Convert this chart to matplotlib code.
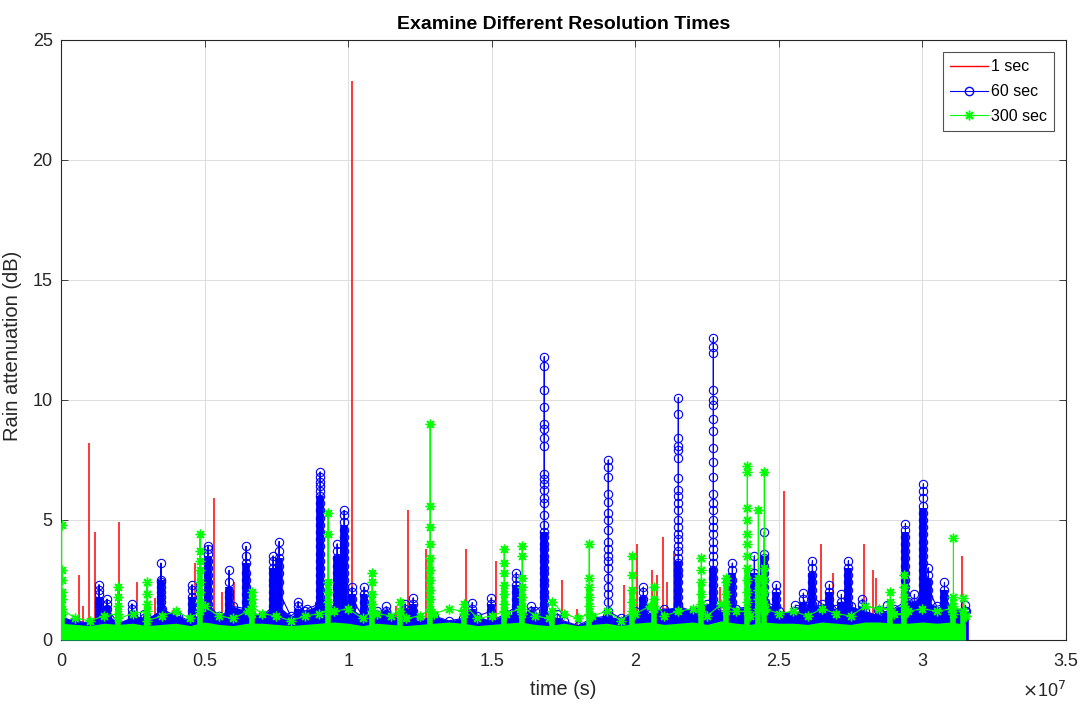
import numpy as np
import matplotlib
matplotlib.use("Agg")
import matplotlib.pyplot as plt
from matplotlib.lines import Line2D

plt.rcParams['font.family'] = ['Liberation Sans', 'DejaVu Sans']

# ---------------- data (time in units of 1e7 s, attenuation in dB) ----------------
# 1-sec series: isolated spikes
red_t = [0.063, 0.077, 0.098, 0.118, 0.202, 0.265, 0.328, 0.390, 0.401, 0.467,
         0.533, 0.561, 0.603, 0.760, 1.014, 1.167, 1.209, 1.272, 1.411, 1.516,
         1.746, 1.798, 1.962, 2.007, 2.059, 2.077, 2.098, 2.111, 2.136, 2.296,
         2.519, 2.648, 2.690, 2.798, 2.829, 2.840, 3.139]
red_peak = [2.7, 1.4, 8.2, 4.5, 4.9, 2.4, 1.75, 1.25, 1.3, 3.2,
            5.9, 2.0, 2.4, 1.9, 23.3, 1.4, 5.4, 3.8, 3.8, 3.3,
            2.5, 1.3, 2.3, 4.0, 2.9, 2.7, 4.3, 2.4, 3.7, 2.2,
            6.2, 4.0, 2.8, 4.0, 2.9, 2.6, 3.5]

# background sampling grid (every 0.05e7 s) and background levels
base_t = [i * 0.05 for i in range(64)]
blue_base = [1.0, 0.8, 0.7, 1.2, 0.7, 1.0, 0.9, 1.3, 1.0, 0.8, 1.3, 1.0, 1.4, 1.2, 1.0, 1.5,
             1.0, 1.2, 1.5, 1.3, 1.4, 1.0, 1.2, 0.9, 1.0, 0.8, 1.0, 0.8, 0.9, 1.0, 0.8, 1.1,
             1.0, 1.2, 0.9, 0.8, 0.6, 0.9, 1.0, 0.9, 1.2, 1.1, 1.3, 1.4, 1.2, 1.5, 1.2, 1.3,
             1.4, 1.6, 1.2, 1.1, 1.4, 1.5, 1.3, 1.4, 1.2, 1.0, 1.3, 1.6, 1.7, 1.4, 1.3, 1.2]
green_base = [1.3, 0.9, 0.8, 1.0, 0.9, 1.1, 0.8, 1.0, 1.2, 0.9, 1.4, 1.0, 0.9, 1.2, 1.1, 1.0,
              0.8, 1.0, 1.1, 1.2, 1.3, 0.9, 1.1, 1.0, 0.9, 1.0, 1.1, 1.3, 1.2, 0.9, 1.0, 1.1,
              1.3, 1.0, 0.9, 1.1, 0.9, 1.0, 1.2, 0.8, 1.1, 1.4, 1.0, 1.2, 1.3, 1.0, 1.5, 1.2,
              1.0, 1.3, 1.1, 1.2, 1.0, 1.3, 1.1, 1.0, 1.4, 1.3, 1.1, 1.2, 1.3, 1.2, 1.3, 1.0]
green_floor = [0.7, 0.65, 0.6, 0.7, 0.65, 0.7, 0.6, 0.65, 0.7, 0.6, 0.75, 0.65, 0.6, 0.7, 0.7, 0.65,
               0.6, 0.65, 0.7, 0.75, 0.7, 0.6, 0.7, 0.65, 0.6, 0.65, 0.7, 0.75, 0.7, 0.6, 0.65, 0.7,
               0.75, 0.65, 0.6, 0.7, 0.6, 0.65, 0.7, 0.6, 0.7, 0.75, 0.65, 0.7, 0.75, 0.65, 0.8, 0.7,
               0.65, 0.75, 0.7, 0.7, 0.65, 0.75, 0.7, 0.65, 0.75, 0.75, 0.7, 0.7, 0.75, 0.7, 0.75, 0.65]

# 60-sec series: rain events (time, sampled values, level below which markers merge)
blue_t = [0.0488, 0.1324, 0.1603, 0.2474, 0.2892, 0.3484, 0.4077, 0.4564, 0.5122, 0.5854,
          0.6446, 0.7387, 0.7596, 0.8258, 0.8571, 0.9024, 0.9617, 0.9861, 1.0139, 1.0557,
          1.1324, 1.1986, 1.2265, 1.4321, 1.4983, 1.5854, 1.6376, 1.6829, 1.7282, 1.9059,
          2.0279, 2.1498, 2.2718, 2.3380, 2.4146, 2.4495, 2.4913, 2.5575, 2.5854, 2.6167,
          2.6760, 2.7178, 2.7422, 2.7909, 2.8467, 2.8780, 2.9408, 2.9721, 3.0035, 3.0209,
          3.0767, 3.1498]
blue_vals = [
    [0.8, 0.6],
    [2.3, 2.1, 1.9, 1.6, 1.4, 1.1, 0.8],
    [1.7, 1.5, 1.3, 1.0],
    [1.5, 1.3, 1.1, 0.9],
    [1.1, 0.9],
    [3.2, 2.5, 2.4, 2.2, 2.0, 1.8, 1.6, 1.3, 1.0],
    [1.0, 0.8],
    [2.3, 2.1, 1.8, 1.5, 1.2],
    [3.9, 3.8, 3.6, 3.3, 3.0, 2.7, 2.4, 2.1, 1.8, 1.5, 1.2],
    [2.9, 2.4, 2.0, 1.8, 1.5, 1.2],
    [3.9, 3.5, 3.2, 2.8, 2.5, 2.2, 1.9, 1.6, 1.3],
    [3.5, 3.3, 3.0, 2.8, 2.5, 2.3, 2.0, 1.7, 1.4],
    [4.1, 3.7, 3.4, 3.1, 2.8, 2.4, 2.0, 1.6],
    [1.6, 1.4, 1.2],
    [1.3, 1.1],
    [7.0, 6.8, 6.6, 6.4, 6.2, 6.0, 5.7, 5.4, 5.1, 4.8, 4.5, 4.2, 3.9, 3.6, 3.3, 3.0, 2.7, 2.4, 2.1, 1.8, 1.5],
    [4.0, 3.7, 3.4, 3.1, 2.8, 2.5, 2.2, 1.9, 1.6],
    [5.4, 5.2, 4.9, 4.6, 4.3, 4.0, 3.7, 3.4, 3.1, 2.8, 2.5, 2.2, 1.9],
    [2.2, 2.0, 1.7, 1.4],
    [2.2, 1.9, 1.6, 1.3],
    [1.4, 1.2],
    [1.5, 1.3, 1.1],
    [1.75, 1.5, 1.2],
    [1.55, 1.3, 1.1],
    [1.75, 1.5, 1.2],
    [2.8, 2.6, 2.3, 2.0, 1.7, 1.4],
    [1.4, 1.2],
    [11.8, 11.4, 10.4, 9.7, 9.0, 8.8, 8.4, 8.1, 6.9, 6.7, 6.5, 6.25, 5.9, 5.7, 5.2, 4.8, 4.5, 4.3,
     4.0, 3.8, 3.5, 3.3, 3.0, 2.8, 2.5, 2.3, 2.0, 1.8, 1.5],
    [1.1, 0.9],
    [7.5, 7.2, 6.8, 6.1, 5.75, 5.3, 5.0, 4.6, 4.1, 3.8, 3.5, 3.3, 3.0, 2.6, 2.2, 1.9, 1.6, 1.2, 0.9],
    [2.2, 2.0, 1.7, 1.4, 1.1],
    [10.1, 9.4, 8.4, 8.1, 7.9, 7.6, 6.75, 6.25, 6.0, 5.7, 5.4, 5.0, 4.7, 4.4, 4.2, 3.9, 3.7, 3.4,
     3.2, 2.9, 2.7, 2.4, 2.1, 1.8, 1.5, 1.2],
    [12.6, 12.2, 11.95, 10.4, 10.0, 9.8, 9.2, 8.7, 8.0, 7.4, 6.8, 6.1, 5.7, 5.4, 5.0, 4.7, 4.4,
     4.1, 3.8, 3.5, 3.2, 2.9, 2.6, 2.3, 2.0, 1.7, 1.4],
    [3.2, 2.9, 2.5, 2.2, 1.9, 1.6, 1.3],
    [3.5, 2.8, 2.5, 2.2, 1.9, 1.6],
    [4.5, 3.6, 3.4, 3.1, 2.8, 2.5, 2.2, 1.9, 1.6],
    [2.3, 2.0, 1.7, 1.4],
    [1.45, 1.2],
    [1.95, 1.7, 1.4],
    [3.3, 3.0, 2.7, 2.4, 2.1, 1.8, 1.5],
    [2.3, 2.0, 1.7, 1.4],
    [1.9, 1.6, 1.3],
    [3.3, 3.0, 2.7, 2.4, 2.1, 1.8, 1.5],
    [1.7, 1.5, 1.2],
    [1.25, 1.0],
    [1.45, 1.2],
    [4.85, 4.6, 4.3, 4.0, 3.7, 3.4, 3.1, 2.8, 2.5, 2.2, 1.9, 1.6],
    [1.9, 1.6, 1.3],
    [6.5, 6.2, 5.9, 5.6, 5.3, 5.0, 4.7, 4.4, 4.1, 3.8, 3.5, 3.2, 2.9, 2.6, 2.3, 2.0, 1.7],
    [3.0, 2.7, 2.4, 2.1, 1.8],
    [2.4, 2.1, 1.8, 1.5],
    [1.45, 1.2],
]
blue_dense = [0.8, 1.8, 1.4, 1.2, 0.9, 2.5, 0.9, 1.8, 3.5, 2.2,
              3.2, 3.0, 3.4, 1.3, 1.1, 6.0, 3.5, 4.8, 1.9, 1.9,
              1.2, 1.3, 1.5, 1.3, 1.5, 2.3, 1.2, 4.5, 0.9, 1.0,
              1.8, 3.3, 3.0, 2.8, 2.8, 3.5, 2.0, 1.2, 1.6, 2.8,
              2.0, 1.6, 3.0, 1.4, 1.0, 1.2, 4.5, 1.6, 5.5, 2.5,
              2.1, 1.2]

# 300-sec series: rain events (time, sampled values, level below which markers merge)
green_t = [0.002, 0.1986, 0.2997, 0.4843, 0.6655, 0.9303, 1.0836, 1.1812, 1.2857, 1.4042,
           1.5436, 1.6063, 1.7108, 1.8397, 1.9895, 2.0662, 2.2300, 2.3171, 2.3902, 2.4286,
           2.4495, 2.8885, 2.9373, 3.1080, 3.1429]
green_vals = [
    [4.8, 2.9, 2.5, 2.0, 1.7, 1.3, 1.1],
    [2.2, 1.8, 1.4, 1.1],
    [2.4, 1.9, 1.5, 1.2],
    [4.4, 3.7, 3.3, 2.9, 2.4, 2.0, 1.6, 1.2],
    [2.0, 1.7, 1.4, 1.1],
    [5.3, 4.4, 2.4, 2.0, 1.6, 1.2],
    [2.8, 2.4, 1.9, 1.5, 1.2],
    [1.6, 1.2],
    [9.0, 5.6, 4.7, 4.0, 3.4, 2.9, 2.5, 2.1, 1.7, 1.3],
    [1.5, 1.1],
    [3.8, 3.2, 2.8, 2.3, 1.9, 1.5, 1.2],
    [3.9, 3.5, 2.6, 2.2, 1.8, 1.4, 1.1],
    [1.6, 1.2],
    [4.0, 2.6, 2.2, 1.8, 1.4, 1.1],
    [3.5, 2.7, 2.1, 1.6, 1.2],
    [2.2, 1.7, 1.3],
    [3.4, 2.9, 2.4, 1.9, 1.5, 1.2],
    [2.6, 2.4, 1.9, 1.5, 1.2],
    [7.25, 7.0, 5.5, 5.0, 4.4, 4.0, 3.5, 3.0, 2.5, 2.0, 1.6, 1.2],
    [5.4, 2.6, 2.1, 1.7, 1.3],
    [7.0, 3.0, 2.5, 2.0, 1.5, 1.2],
    [2.0, 1.6, 1.3],
    [2.7, 2.2, 1.8, 1.4, 1.1],
    [4.25, 1.8, 1.4, 1.1],
    [1.75, 1.2],
]
green_dense = [2.0, 1.4, 1.5, 2.9, 1.4, 2.4, 1.9, 1.2, 3.4, 1.1,
               2.3, 2.2, 1.2, 2.2, 2.1, 1.7, 2.4, 2.4, 3.0, 2.6,
               3.0, 1.6, 2.2, 1.8, 1.2]

X_SCALE = 1e7
TIME_TICKS = [0, 0.5, 1, 1.5, 2, 2.5, 3, 3.5]
Y_TICKS = [0, 5, 10, 15, 20, 25]


def merge(bt, bv, et, ev):
    """Merge background samples with event samples; each event's samples are ordered
    so the connecting line enters and leaves at its lowest samples (vertical column)."""
    t = list(bt)
    v = list(bv)
    for tt, vals in zip(et, ev):
        asc = sorted(vals)
        order = asc[0::2] + asc[1::2][::-1]
        for val in order:
            t.append(tt)
            v.append(val)
    t = np.asarray(t)
    v = np.asarray(v)
    idx = np.argsort(t, kind="stable")
    return t[idx] * X_SCALE, v[idx]


fig = plt.figure(figsize=(10.86, 7.04), dpi=100)
ax = fig.add_axes([61 / 1086, 64 / 704, 1005 / 1086, 600 / 704])

RED = (1, 0, 0)
BLUE = (0, 0, 1)
GREEN = (0, 1, 0)
bx = np.asarray(base_t) * X_SCALE

# red 1-sec series
ax.vlines(np.asarray(red_t) * X_SCALE, 0, red_peak, color=RED, lw=1.1, zorder=2)
ax.plot(bx, green_floor, color=RED, lw=0.8, zorder=2)

# blue 60-sec series
bt, bv = merge(base_t, blue_base, blue_t, blue_vals)
ax.fill_between(bx, 0, blue_base, color=BLUE, lw=0, zorder=3)
ax.vlines(np.asarray(blue_t) * X_SCALE, 0, blue_dense, color=BLUE, lw=5.5, zorder=3)
ax.plot(bt, bv, color=BLUE, lw=0.8, marker='o', ms=6, mfc='none', mec=BLUE, mew=0.8, zorder=3)

# green 300-sec series
gt, gv = merge(base_t, green_base, green_t, green_vals)
ax.fill_between(bx, 0, green_floor, color=GREEN, lw=0, zorder=4)
ax.vlines(np.asarray(green_t) * X_SCALE, 0, green_dense, color=GREEN, lw=4.0, zorder=4)
ax.plot(gt, gv, color=GREEN, lw=0.8, marker=(8, 2, 0), ms=7, mec=GREEN, mew=1.0, zorder=4)

ax.set_xlim(0, 3.5e7)
ax.set_ylim(0, 25)
ax.set_xticks([v * X_SCALE for v in TIME_TICKS])
ax.set_xticklabels(['0', '0.5', '1', '1.5', '2', '2.5', '3', '3.5'])
ax.set_yticks(Y_TICKS)
ax.set_yticklabels([str(v) for v in Y_TICKS])
ax.tick_params(direction='in', length=5, width=0.6, top=True, right=True,
               labelsize=13, colors='#262626')
ax.tick_params(axis='x', pad=9)
ax.tick_params(axis='y', pad=6)
ax.grid(True, color='#dddddd', lw=0.7, zorder=0)
ax.set_axisbelow(True)
for s in ax.spines.values():
    s.set_color('#262626')
    s.set_linewidth(0.8)

ax.set_title('Examine Different Resolution Times', fontsize=14, fontweight='bold',
             color='#000000', pad=8)
ax.set_xlabel('time (s)', fontsize=14.3, color='#262626')
ax.xaxis.set_label_coords((563 - 61) / 1005, -(680 - 640) / 600)
ax.set_ylabel('Rain attenuation (dB)', fontsize=14.5, color='#262626')
ax.yaxis.set_label_coords(-(61 - 22) / 1005, (640 - 346) / 600)
fig.text(1044 / 1086, 1 - 691 / 704, r'$\times$10$^{7}$', fontsize=13, color='#262626',
         ha='center', va='center')

handles = [
    Line2D([], [], color=RED, lw=1.0),
    Line2D([], [], color=BLUE, lw=0.8, marker='o', ms=6, mfc='none', mec=BLUE),
    Line2D([], [], color=GREEN, lw=0.8, marker=(8, 2, 0), ms=7, mec=GREEN, mew=1.0),
]
leg = ax.legend(handles, ['1 sec', '60 sec', '300 sec'], loc='upper right',
                bbox_to_anchor=(0.9885, 0.98), fontsize=11.5, frameon=True, fancybox=False,
                edgecolor='#262626', handlelength=2.4, handletextpad=0.2,
                borderpad=0.45, labelspacing=0.62, borderaxespad=0)
leg.get_frame().set_linewidth(0.8)

fig.savefig('out.png', dpi=100)
